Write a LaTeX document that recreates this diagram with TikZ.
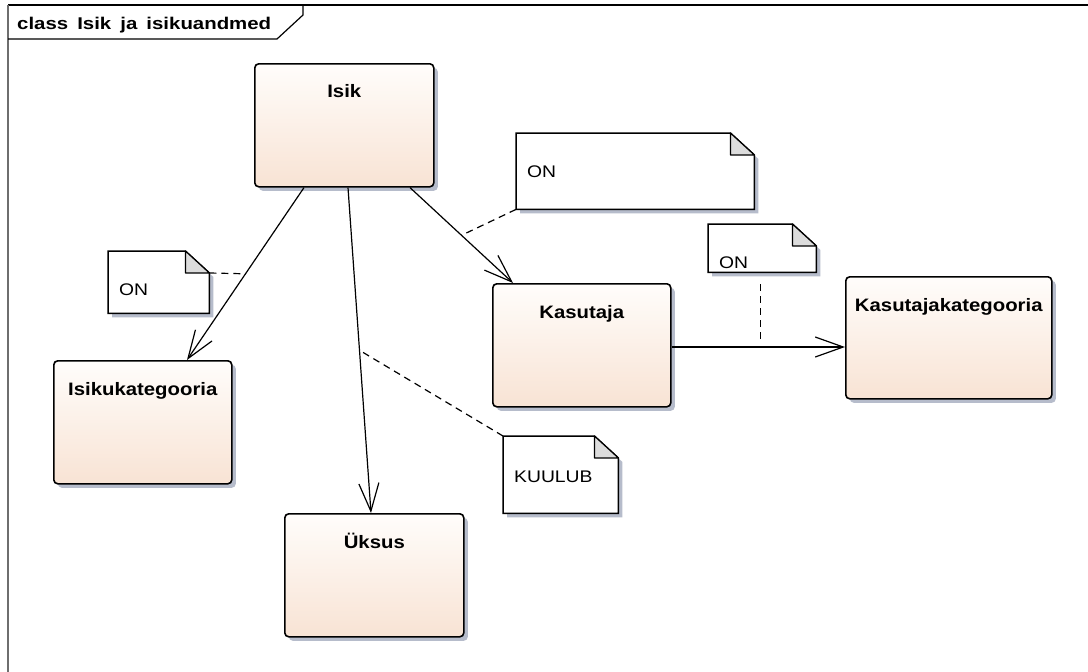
\documentclass[tikz,border=0pt]{standalone}
\usepackage{fontspec}
\setmainfont{Liberation Sans}
\newfontfamily\titlefont[FakeStretch=1.2,WordSpace=1.6]{Liberation Sans}
\newfontfamily\classfont[FakeStretch=1.13]{Liberation Sans}
\newfontfamily\notefont[FakeStretch=1.15]{Liberation Sans}
\usetikzlibrary{arrows.meta,shadows,calc}

\definecolor{clstop}{HTML}{FFFDFB}
\definecolor{clsbot}{HTML}{F8E3D4}
\definecolor{shadowcol}{HTML}{B6BCCB}
\definecolor{foldgray}{HTML}{DCDCDC}
\definecolor{framegray}{HTML}{6E6E6E}

\tikzset{
  classbox/.style={draw=black, line width=1.6pt, rounded corners=4pt,
    top color=clstop, bottom color=clsbot, inner sep=0pt, anchor=north west,
    drop shadow={shadow xshift=4pt, shadow yshift=-4pt, fill=shadowcol, opacity=1}},
  classname/.style={anchor=base, inner sep=0pt, font=\classfont\bfseries\fontsize{18}{20}\selectfont},
  notearea/.style={inner sep=0pt, anchor=north west},
  noteshape/.style={draw=black, fill=white, line width=1.5pt,
    drop shadow={shadow xshift=4pt, shadow yshift=-4pt, fill=shadowcol, opacity=1}},
  notefold/.style={draw=black, fill=foldgray, line width=1.2pt, line join=round},
  notetext/.style={anchor=base west, inner sep=0pt, font=\notefont\fontsize{16.8}{19}\selectfont},
  assoc/.style={draw=black, line width=1.2pt, -{Straight Barb[length=28pt,width=20pt,line width=1.2pt]}},
  notelink/.style={draw=black, line width=1.2pt, dash pattern=on 7pt off 5pt},
  titletext/.style={anchor=base west, inner sep=0pt, font=\titlefont\bfseries\fontsize{17}{19}\selectfont}
}

% UML note: name, x, y, width, height, text, baseline offset
\newcommand\umlnote[7]{%
  \node[notearea, minimum width=#4pt, minimum height=#5pt] (#1) at (#2,#3) {};
  \path[noteshape] (#1.north west) -- ([xshift=-24pt]#1.north east)
    -- ([yshift=-22pt]#1.north east) -- (#1.south east) -- (#1.south west) -- cycle;
  \path[notefold] ([xshift=-24pt]#1.north east) -- ([xshift=-24pt,yshift=-22pt]#1.north east)
    -- ([yshift=-22pt]#1.north east) -- cycle;
  \node[notetext] (#1-t) at ([xshift=11pt,yshift=-#7pt]#1.north west) {#6};
}

\begin{document}
\begin{tikzpicture}[x=1pt,y=-1pt]
\useasboundingbox[fill=white] (0,0) rectangle (1088,672);

% diagram frame and its title tab
\draw[line width=1.5pt] (8,5) -- (1100,5);
\draw[framegray, line width=2pt] (8,5) -- (8,690);
\draw[line width=1.2pt] (8,39) -- (277,39) -- (303,15) -- (303,5);
\node[titletext] (title) at (17,29) {class Isik ja isikuandmed};

% classes
\node[classbox, minimum width=179pt, minimum height=123pt] (isik) at (254,63) {};
\node[classname] (isik-t) at ([yshift=-34pt]isik.north) {Isik};

\node[classbox, minimum width=178pt, minimum height=123pt] (ik) at (53,360) {};
\node[classname] (ik-t) at ([yshift=-35pt]ik.north) {Isikukategooria};

\node[classbox, minimum width=179pt, minimum height=123pt] (uksus) at (284,513) {};
\node[classname] (uksus-t) at ([yshift=-35pt]uksus.north) {Üksus};

\node[classbox, minimum width=178pt, minimum height=123pt] (kas) at (492,283) {};
\node[classname] (kas-t) at ([yshift=-35pt]kas.north) {Kasutaja};

\node[classbox, minimum width=206pt, minimum height=122pt] (kk) at (845,276) {};
\node[classname] (kk-t) at ([yshift=-35pt]kk.north) {Kasutajakategooria};

% association end points
\coordinate (a1) at ([xshift=50pt]isik.south west);
\coordinate (b1) at ([xshift=134pt]ik.north west);
\coordinate (a2) at ([xshift=94pt]isik.south west);
\coordinate (b2) at ([xshift=87pt]uksus.north west);
\coordinate (a3) at ([xshift=156pt]isik.south west);
\coordinate (b3) at ([xshift=21pt]kas.north west);
\coordinate (a4) at ([yshift=-64pt]kas.north east);
\coordinate (b4) at (kk.west |- a4);

\coordinate (m1) at ($(a1)!0.5!(b1)$);
\coordinate (m2) at ($(a2)!0.5!(b2)$);
\coordinate (m3) at ($(a3)!0.5!(b3)$);
\coordinate (m4) at ($(a4)!0.5!(b4)$);

% associations
\draw[assoc] (a1) -- (b1);
\draw[assoc] (a2) -- (b2);
\draw[assoc] (a3) -- (b3);
\draw[assoc] (a4) -- (b4);

% notes
\umlnote{n1}{108}{251}{101}{62}{ON}{44}
\umlnote{n2}{516}{133}{238}{76}{ON}{44}
\umlnote{n3}{708}{224}{108}{48}{ON}{44}
\umlnote{n4}{503}{436}{115}{77}{KUULUB}{46}

% note links
\draw[notelink] ([yshift=-22pt]n1.north east) -- (m1);
\draw[notelink] (n2.south west) -- (m3);
\draw[notelink, shorten <=12pt, shorten >=6pt] ([xshift=2pt]n3.south -| m4) -- ([xshift=2pt]m4);
\draw[notelink] (n4.north west) -- (m2);
\end{tikzpicture}
\end{document}
